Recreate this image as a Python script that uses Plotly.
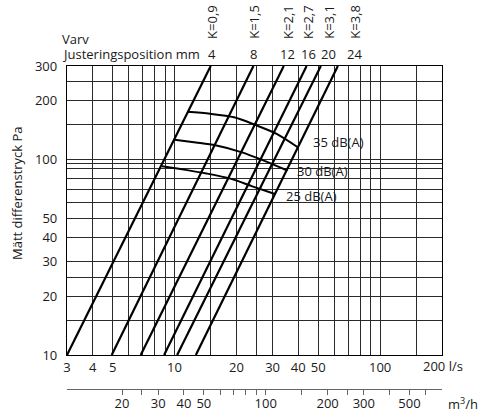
import plotly.graph_objects as go
import math

# ---- data ----
k_labels = ["K=0,9", "K=1,5", "K=2,1", "K=2,7", "K=3,1", "K=3,8"]
adj_positions = ["4", "8", "12", "16", "20", "24"]
k_flow_at_10pa = [3.0, 4.95, 6.85, 8.9, 10.3, 12.7]      # l/s at 10 Pa
k_flow_at_300pa = [15.0, 24.2, 34.0, 43.9, 51.5, 62.3]   # l/s at 300 Pa
k_pa_ends = [10, 300]
label_flow_pos = [15.2, 24.3, 35.6, 44.6, 56.3, 75.2]    # where top labels sit (l/s)

db35_flow = [11.5, 14.9, 19.5, 24.7, 31.4, 39.6]
db35_pa = [175, 171, 164, 150, 135, 115.6]
db30_flow = [10.0, 12.7, 15.8, 21.3, 26.8, 35.4]
db30_pa = [126, 122, 118, 108.6, 99.1, 87.7]
db25_flow = [8.7, 11.3, 14.3, 18.7, 23.9, 30.8]
db25_pa = [92.3, 88.4, 84.7, 79.7, 72.8, 66.5]
db_labels = ["35 dB(A)", "30 dB(A)", "25 dB(A)"]
db_label_flow = [46.5, 38.8, 34.6]
db_label_pa = [122, 87.7, 65.3]

x_grid = [3, 4, 5, 6, 7, 8, 9, 10, 15, 20, 25, 30, 40, 50, 60, 70, 80, 90, 100, 150, 200]
x_labels = {3: "3", 4: "4", 5: "5", 10: "10", 20: "20", 30: "30", 40: "40", 50: "50", 100: "100", 200: "200"}
y_grid = [10, 15, 20, 25, 30, 40, 50, 60, 70, 80, 90, 95, 100, 150, 200, 250, 300]
y_labels = {10: "10", 20: "20", 30: "30", 40: "40", 50: "50", 100: "100", 200: "200", 300: "300"}
m3h_ticks = [20, 25, 30, 40, 50, 60, 70, 80, 90, 100, 150, 200, 250, 300, 400, 500, 600]
m3h_labels = {20: "20", 30: "30", 40: "40", 50: "50", 100: "100", 200: "200", 300: "300", 500: "500"}
ls_to_m3h = 3.6
x_min, x_max = 3, 200
y_min, y_max = 10, 300

FONT = "Open Sans"
TXT = "#1a1a1a"
GRID = "#2a2a2a"

fig = go.Figure()

for i in range(len(k_labels)):
    fig.add_trace(go.Scatter(
        x=[k_flow_at_10pa[i], k_flow_at_300pa[i]], y=k_pa_ends,
        mode="lines", line=dict(color="#000", width=2.2),
        showlegend=False, hoverinfo="skip"))

for fx, py in [(db35_flow, db35_pa), (db30_flow, db30_pa), (db25_flow, db25_pa)]:
    fig.add_trace(go.Scatter(
        x=fx, y=py, mode="lines", line=dict(color="#000", width=2, shape="spline", smoothing=0.8),
        showlegend=False, hoverinfo="skip"))

# invisible trace so that the m3/h axis is drawn
fig.add_trace(go.Scatter(x=[m3h_ticks[0]], y=[20], xaxis="x2", yaxis="y",
                         mode="markers", marker=dict(opacity=0), showlegend=False, hoverinfo="skip"))

L, R, T, B = 67, 43, 66, 27
W, H = 485, 416
plot_h = H - T - B
y_dom0 = (389 - 355) / plot_h
plot_w = W - L - R

def px_x(px):
    return (px - L) / plot_w

def px_y(py):
    return (389 - py) / plot_h

def ann(text, x, y, xref="paper", yref="paper", xanchor="center", angle=0):
    return dict(text=text, xref=xref, yref=yref, x=x, y=y, xanchor=xanchor, yanchor="middle",
                textangle=angle, showarrow=False, borderpad=0,
                font=dict(size=13, color=TXT, family=FONT))

# last x tick label is drawn together with the unit, as in the reference
x_ticktext = [x_labels.get(v, "") if v != x_max else "" for v in x_grid]

annotations = []
annotations.append(ann("Mätt differenstryck Pa", px_x(17), px_y(193), angle=-90))
annotations.append(ann("Varv", px_x(61), px_y(39), xanchor="left"))
annotations.append(ann("Justeringsposition mm", px_x(61), px_y(54), xanchor="left"))
for i in range(len(k_labels)):
    annotations.append(ann(adj_positions[i], math.log10(label_flow_pos[i]), px_y(54), xref="x"))
    annotations.append(ann(k_labels[i], math.log10(label_flow_pos[i]), px_y(22), xref="x", angle=-90))
for i in range(len(db_labels)):
    annotations.append(ann(db_labels[i], math.log10(db_label_flow[i]), math.log10(db_label_pa[i]),
                           xref="x", yref="y", xanchor="left"))
annotations.append(ann(x_labels[x_max] + " l/s", px_x(422), px_y(366), xanchor="left"))
annotations.append(ann("m<sup>3</sup>/h", px_x(447), px_y(403), xanchor="left"))

fig.update_layout(
    template="none",
    width=W, height=H,
    margin=dict(l=L, r=R, t=T, b=B, pad=0),
    paper_bgcolor="white", plot_bgcolor="white",
    font=dict(family=FONT, size=13, color=TXT),
    xaxis=dict(type="log", range=[math.log10(x_min), math.log10(x_max)],
               tickvals=x_grid, ticktext=x_ticktext,
               showgrid=True, gridcolor=GRID, gridwidth=1, ticks="", zeroline=False,
               showline=True, linecolor="#000", linewidth=1.3, mirror=True, automargin=False,
               anchor="y", tickfont=dict(size=13, color=TXT), tickangle=0,
               ticklabelstandoff=0),
    xaxis2=dict(type="log", range=[math.log10(x_min * ls_to_m3h), math.log10(x_max * ls_to_m3h)],
                overlaying="x", anchor="free", position=0, side="bottom", automargin=False,
                tickvals=m3h_ticks, ticktext=[m3h_labels.get(v, "") for v in m3h_ticks],
                showgrid=False, ticks="outside", ticklen=5, tickcolor="#666", tickwidth=1.2,
                showline=True, linecolor="#666", linewidth=1.3, zeroline=False,
                tickfont=dict(size=13, color=TXT), tickangle=0, ticklabelstandoff=-3),
    yaxis=dict(type="log", range=[math.log10(y_min), math.log10(y_max)], domain=[y_dom0, 1],
               tickvals=y_grid, ticktext=[y_labels.get(v, "") for v in y_grid],
               showgrid=True, gridcolor=GRID, gridwidth=1, ticks="", zeroline=False,
               showline=True, linecolor="#000", linewidth=1.3, mirror=True, automargin=False,
               ticklabelstandoff=6, tickfont=dict(size=13, color=TXT)),
    annotations=annotations,
    showlegend=False,
)

fig.write_html("out.html", config={"displayModeBar": False},
               post_script="document.body.style.margin='0';document.body.style.padding='0';"
                           "document.documentElement.style.overflow='hidden';")
